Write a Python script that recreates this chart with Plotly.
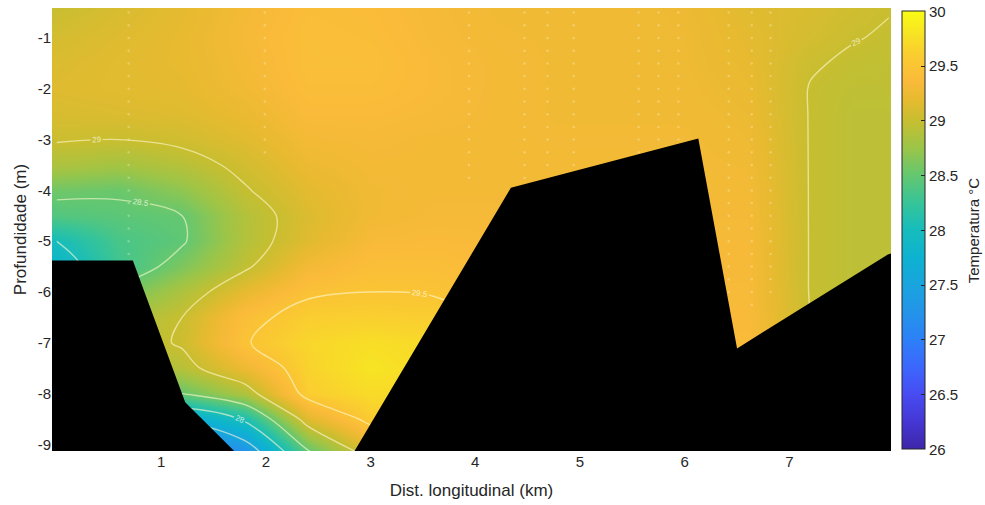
import plotly.graph_objects as go

# ---- data ----
dist_km = [0.0, 0.6, 1.2, 1.8, 2.4, 3.0, 3.6, 4.2, 4.8, 5.4, 6.0, 6.6, 7.2, 7.6, 7.95]
depth_m = [-0.4, -1.0, -1.5, -2.0, -2.5, -3.0, -3.5, -4.0, -4.5, -5.0, -5.5,
           -6.0, -6.5, -7.0, -7.5, -8.0, -8.5, -9.2]

temp_c = [
    [29.00, 29.10, 29.18, 29.30, 29.40, 29.38, 29.32, 29.28, 29.27, 29.27, 29.25, 29.15, 29.10, 29.05, 29.01],
    [29.08, 29.14, 29.20, 29.32, 29.42, 29.40, 29.33, 29.29, 29.28, 29.27, 29.26, 29.18, 29.07, 29.01, 28.98],
    [29.12, 29.16, 29.20, 29.30, 29.42, 29.42, 29.35, 29.30, 29.28, 29.27, 29.26, 29.20, 29.02, 28.97, 28.96],
    [29.14, 29.16, 29.18, 29.28, 29.40, 29.40, 29.35, 29.30, 29.28, 29.28, 29.27, 29.22, 28.99, 28.95, 28.95],
    [29.10, 29.12, 29.14, 29.22, 29.36, 29.36, 29.33, 29.30, 29.28, 29.28, 29.28, 29.24, 28.99, 28.94, 28.94],
    [29.02, 29.00, 29.05, 29.15, 29.30, 29.32, 29.30, 29.30, 29.29, 29.29, 29.29, 29.26, 28.99, 28.94, 28.94],
    [28.85, 28.80, 28.90, 29.06, 29.24, 29.30, 29.30, 29.30, 29.30, 29.30, 29.30, 29.28, 28.99, 28.94, 28.94],
    [28.56, 28.53, 28.70, 28.98, 29.17, 29.28, 29.30, 29.30, 29.30, 29.30, 29.30, 29.30, 28.99, 28.94, 28.94],
    [28.40, 28.45, 28.50, 28.88, 29.12, 29.28, 29.32, 29.32, 29.31, 29.31, 29.31, 29.31, 28.99, 28.94, 28.94],
    [28.00, 28.35, 28.47, 28.88, 29.15, 29.34, 29.36, 29.34, 29.32, 29.32, 29.32, 29.32, 28.99, 28.94, 28.94],
    [27.80, 28.30, 28.62, 28.96, 29.30, 29.42, 29.42, 29.36, 29.33, 29.33, 29.33, 29.33, 28.99, 28.94, 28.94],
    [27.65, 28.55, 28.85, 29.20, 29.46, 29.50, 29.48, 29.40, 29.35, 29.34, 29.34, 29.34, 28.99, 28.94, 28.94],
    [27.50, 28.80, 29.00, 29.42, 29.60, 29.62, 29.60, 29.45, 29.36, 29.35, 29.35, 29.35, 29.00, 28.94, 28.94],
    [27.40, 28.85, 29.03, 29.48, 29.68, 29.75, 29.70, 29.50, 29.38, 29.36, 29.36, 29.36, 29.00, 28.94, 28.94],
    [27.30, 28.80, 28.90, 29.25, 29.65, 29.80, 29.72, 29.52, 29.40, 29.37, 29.37, 29.37, 29.00, 28.94, 28.94],
    [27.20, 28.40, 28.50, 28.85, 29.60, 29.72, 29.70, 29.52, 29.40, 29.38, 29.38, 29.38, 29.00, 28.94, 28.94],
    [27.10, 27.80, 27.60, 28.05, 29.15, 29.58, 29.60, 29.50, 29.40, 29.38, 29.38, 29.38, 29.00, 28.94, 28.94],
    [27.00, 27.20, 26.70, 27.15, 28.40, 29.10, 29.40, 29.45, 29.40, 29.38, 29.38, 29.38, 29.00, 28.94, 28.94],
]

# sea bed profile (black area)
bed_x = [-0.2, 0.73, 1.23, 1.69, 1.78, 2.80, 2.85, 4.34, 6.13, 6.50, 7.94, 8.2]
bed_d = [-5.38, -5.38, -8.17, -9.12, -9.30, -9.30, -9.12, -3.95, -2.98, -7.11, -5.26, -5.10]

# CTD station columns (faint dotted profiles)
station_x = [0.69, 1.99, 3.94, 4.47, 4.69, 4.94, 5.56, 5.75, 5.94, 6.42, 6.64, 6.82]
station_bottom = [-5.3, -3.3, -3.9, -3.8, -3.7, -3.6, -3.4, -3.3, -3.2, -6.2, -6.3, -6.2]
sample_depths = [-0.5, -0.75, -1.0, -1.25, -1.5, -1.75, -2.0, -2.25, -2.5, -2.75, -3.0,
                 -3.25, -3.5, -3.75, -4.0, -4.25, -4.5, -4.75, -5.0, -5.25, -5.5,
                 -5.75, -6.0, -6.25]

cb_ticks = [26, 26.5, 27, 27.5, 28, 28.5, 29, 29.5, 30]
x_ticks = [1, 2, 3, 4, 5, 6, 7]
y_ticks = [-1, -2, -3, -4, -5, -6, -7, -8, -9]

parula = [
    [0.0, "rgb(62,38,168)"], [0.0625, "rgb(69,55,212)"], [0.125, "rgb(71,76,242)"],
    [0.1875, "rgb(60,103,252)"], [0.25, "rgb(45,128,248)"], [0.3125, "rgb(35,148,233)"],
    [0.375, "rgb(25,164,222)"], [0.4375, "rgb(13,178,208)"], [0.5, "rgb(22,188,188)"],
    [0.5625, "rgb(55,196,152)"], [0.625, "rgb(100,199,112)"], [0.6875, "rgb(155,197,72)"],
    [0.75, "rgb(200,190,48)"], [0.8, "rgb(232,186,48)"], [0.84, "rgb(250,186,58)"],
    [0.9, "rgb(250,205,48)"], [0.95, "rgb(247,228,35)"], [1.0, "rgb(249,251,20)"],
]

FONT = "Arial, Liberation Sans, Helvetica, sans-serif"
TXT = "#262626"

fig = go.Figure()

fig.add_trace(go.Heatmap(
    x=dist_km, y=depth_m, z=temp_c, zmin=26, zmax=30, zsmooth="best",
    colorscale=parula, hoverinfo="skip",
    colorbar=dict(
        x=1.0131, xanchor="left", xpad=0, ypad=0,
        y=0.4983, yanchor="middle", len=0.9876,
        thickness=23, outlinewidth=1, outlinecolor="#262626",
        tickvals=cb_ticks, ticktext=[f"{v:g}" for v in cb_ticks],
        ticks="inside", ticklen=4, tickcolor="#262626",
        tickfont=dict(family=FONT, size=15, color=TXT),
    ),
))

fig.add_trace(go.Contour(
    x=dist_km, y=depth_m, z=temp_c, showscale=False, hoverinfo="skip",
    contours=dict(start=26.5, end=29.5, size=0.5, coloring="none",
                  showlabels=True,
                  labelfont=dict(family=FONT, size=8, color="rgba(255,255,235,0.75)")),
    line=dict(color="rgba(255,250,210,0.6)", width=1.4),
))

for sx, sb in zip(station_x, station_bottom):
    ds = [d for d in sample_depths if d >= sb]
    fig.add_trace(go.Scatter(
        x=[sx] * len(ds), y=ds, mode="markers", hoverinfo="skip", showlegend=False,
        marker=dict(size=2.5, color="rgba(255,255,235,0.28)"),
    ))

fig.add_trace(go.Scatter(
    x=bed_x + [8.2, -0.2], y=bed_d + [-10, -10], fill="toself",
    fillcolor="black", mode="lines", line=dict(width=0, color="black"),
    hoverinfo="skip", showlegend=False,
))

fig.add_annotation(
    text="Temperatura °C", textangle=-90, xref="paper", yref="paper",
    x=1.0977, y=0.4983, xanchor="center", yanchor="middle", showarrow=False,
    font=dict(family=FONT, size=15, color=TXT),
)

fig.update_layout(
    width=985, height=505,
    margin=dict(l=52, r=94, t=8, b=54, autoexpand=False),
    paper_bgcolor="white", plot_bgcolor="white",
    showlegend=False,
    font=dict(family=FONT, color=TXT),
    xaxis=dict(range=[-0.042, 7.97], tickvals=x_ticks, ticktext=[str(v) for v in x_ticks],
               showgrid=False, zeroline=False, ticks="", showline=False,
               tickfont=dict(family=FONT, size=15, color=TXT),
               title=dict(text="Dist. longitudinal (km)", standoff=15,
                          font=dict(family=FONT, size=17, color=TXT))),
    yaxis=dict(range=[-9.13, -0.41], tickvals=y_ticks, ticktext=[str(v) for v in y_ticks],
               showgrid=False, zeroline=False, ticks="", showline=False,
               tickfont=dict(family=FONT, size=15, color=TXT),
               title=dict(text="Profundidade (m)", standoff=6,
                          font=dict(family=FONT, size=17, color=TXT))),
)

fig.write_html("out.html", config={"displayModeBar": False},
               post_script="document.body.style.margin='0px';")
